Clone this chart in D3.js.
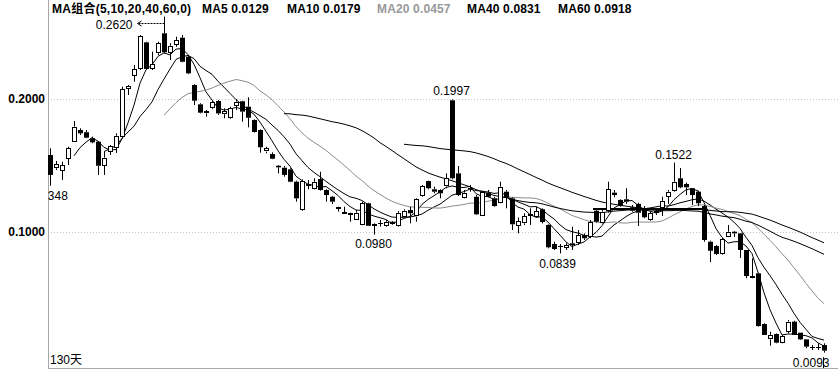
<!DOCTYPE html>
<html><head><meta charset="utf-8">
<script src="https://cdn.jsdelivr.net/npm/d3@7"></script>
<style>body{margin:0;background:#fff}svg{display:block}</style>
</head><body>
<svg id="c" width="838" height="370"></svg>
<script>
const openP=[0.1579,0.1479,0.1459,0.1549,0.1679,0.1767,0.1750,0.1705,0.1679,0.1498,
0.1604,0.1634,0.1717,0.2075,0.2173,0.2226,0.2426,0.2226,0.2344,0.2494,
0.2351,0.2406,0.2461,0.2318,0.2105,0.1960,0.1892,0.1930,0.1985,0.1885,
0.1855,0.1950,0.1983,0.1942,0.1842,0.1767,0.1604,0.1586,0.1498,0.1483,
0.1471,0.1378,0.1165,0.1361,0.1329,0.1398,0.1316,0.1265,0.1186,0.1153,
0.1141,0.1095,0.1047,0.1216,0.1045,0.1062,0.1045,0.1077,0.1045,0.1115,
0.1165,0.1115,0.1271,0.1383,0.1321,0.1316,0.1341,0.1990,0.1441,0.1261,
0.1323,0.1265,0.1123,0.1296,0.1253,0.1220,0.1303,0.1253,0.1047,0.1065,
0.1120,0.1115,0.1171,0.1053,0.0910,0.0889,0.0882,0.0915,0.0915,0.0977,
0.0965,0.1160,0.1073,0.1153,0.1296,0.1241,0.1246,0.1186,0.1211,0.1178,
0.1090,0.1141,0.1186,0.1265,0.1311,0.1404,0.1361,0.1329,0.1303,0.1195,
0.0927,0.0895,0.0832,0.0968,0.1002,0.0990,0.0865,0.0671,0.0689,0.0308,
0.0193,0.0233,0.0168,0.0250,0.0326,0.0243,0.0193,0.0133,0.0136,0.0150];
const highP=[0.1629,0.1534,0.1529,0.1641,0.1835,0.1780,0.1767,0.1717,0.1684,0.1604,
0.1654,0.1742,0.2092,0.2105,0.2256,0.2481,0.2431,0.2356,0.2431,0.2620,
0.2419,0.2468,0.2481,0.2331,0.2111,0.1968,0.1917,0.1985,0.1992,0.1930,
0.1942,0.1998,0.1987,0.2013,0.1847,0.1772,0.1641,0.1599,0.1504,0.1496,
0.1479,0.1386,0.1396,0.1391,0.1404,0.1453,0.1321,0.1271,0.1190,0.1190,
0.1145,0.1165,0.1228,0.1220,0.1065,0.1090,0.1090,0.1083,0.1158,0.1171,
0.1190,0.1253,0.1353,0.1386,0.1341,0.1321,0.1441,0.1997,0.1496,0.1316,
0.1353,0.1278,0.1308,0.1316,0.1265,0.1378,0.1316,0.1261,0.1109,0.1141,
0.1178,0.1190,0.1178,0.1058,0.0927,0.0910,0.0915,0.1040,0.1015,0.0990,
0.1090,0.1171,0.1165,0.1378,0.1316,0.1246,0.1329,0.1203,0.1220,0.1195,
0.1153,0.1178,0.1265,0.1316,0.1522,0.1481,0.1371,0.1329,0.1311,0.1203,
0.0935,0.0902,0.0955,0.1053,0.1008,0.0992,0.0865,0.0802,0.0694,0.0314,
0.0250,0.0238,0.0226,0.0338,0.0333,0.0243,0.0193,0.0150,0.0163,0.0163];
const lowP=[0.1348,0.1466,0.1391,0.1504,0.1679,0.1729,0.1705,0.1667,0.1429,0.1429,
0.1579,0.1594,0.1705,0.2030,0.2130,0.2218,0.2218,0.2218,0.2331,0.2344,
0.2293,0.2393,0.2276,0.2186,0.1955,0.1892,0.1867,0.1923,0.1880,0.1855,
0.1850,0.1917,0.1829,0.1787,0.1747,0.1596,0.1592,0.1547,0.1441,0.1416,
0.1374,0.1228,0.1160,0.1321,0.1321,0.1311,0.1228,0.1211,0.1153,0.1141,
0.1077,0.1090,0.1045,0.1045,0.0980,0.1040,0.1040,0.1055,0.1040,0.1111,
0.1065,0.1077,0.1265,0.1321,0.1291,0.1253,0.1329,0.1396,0.1271,0.1253,
0.1303,0.1128,0.1120,0.1261,0.1190,0.1216,0.1178,0.1015,0.0990,0.1053,
0.1053,0.1109,0.1065,0.0877,0.0865,0.0839,0.0865,0.0865,0.0902,0.0940,
0.0953,0.1070,0.1065,0.1145,0.1261,0.1190,0.1211,0.1153,0.1045,0.1103,
0.1085,0.1128,0.1120,0.1211,0.1303,0.1329,0.1278,0.1203,0.1195,0.0927,
0.0774,0.0827,0.0827,0.0962,0.0962,0.0805,0.0652,0.0652,0.0288,0.0226,
0.0145,0.0163,0.0163,0.0238,0.0226,0.0188,0.0126,0.0113,0.0113,0.0093];
const closeP=[0.1429,0.1509,0.1504,0.1629,0.1792,0.1742,0.1709,0.1674,0.1498,0.1559,
0.1647,0.1724,0.2075,0.2098,0.2226,0.2474,0.2226,0.2261,0.2419,0.2351,
0.2401,0.2444,0.2280,0.2193,0.1987,0.1897,0.1910,0.1975,0.1892,0.1910,
0.1930,0.1980,0.1905,0.1859,0.1752,0.1637,0.1629,0.1551,0.1486,0.1429,
0.1378,0.1253,0.1386,0.1351,0.1378,0.1316,0.1278,0.1228,0.1175,0.1145,
0.1133,0.1145,0.1216,0.1047,0.1058,0.1070,0.1077,0.1060,0.1145,0.1160,
0.1141,0.1246,0.1346,0.1329,0.1303,0.1291,0.1404,0.1404,0.1278,0.1296,
0.1331,0.1133,0.1303,0.1265,0.1195,0.1341,0.1258,0.1058,0.1083,0.1120,
0.1135,0.1158,0.1075,0.0885,0.0872,0.0892,0.0902,0.0902,0.0977,0.0953,
0.1077,0.1077,0.1153,0.1321,0.1278,0.1195,0.1228,0.1160,0.1145,0.1111,
0.1141,0.1158,0.1235,0.1303,0.1378,0.1336,0.1336,0.1278,0.1216,0.0940,
0.0859,0.0835,0.0947,0.1002,0.0990,0.0865,0.0669,0.0664,0.0293,0.0226,
0.0226,0.0168,0.0218,0.0326,0.0226,0.0193,0.0138,0.0135,0.0138,0.0108];
const maPeriods=[5,10,20,40,60];
const legendLabels=["MA组合(5,10,20,40,60,0)","MA5 0.0129","MA10 0.0179","MA20 0.0457","MA40 0.0831","MA60 0.0918"];
const yTicks=[0.1,0.2];
const dayLabel="130天";
const levelIdx=[90.5,109.5];
const levelVal=[0.1173];
const marks=[
 {i:19,field:"high",text:"0.2620"},
 {i:67,field:"high",text:"0.1997"},
 {i:54,field:"low",text:"0.0980"},
 {i:85,field:"low",text:"0.0839"},
 {i:104,field:"high",text:"0.1522"},
 {i:129,field:"low",text:"0.0093"},
 {i:0,field:"low",text:"0.1348"}
];

const W=838,H=370,L=48,B=368;
const svg=d3.select("#c");
const font="'Liberation Sans',Arial,'Noto Sans CJK SC',sans-serif";
const n=closeP.length;
const x=d3.scaleLinear().domain([0,n-1]).range([50,824]);
const y=d3.scaleLinear().domain([0,0.2]).range([365,99]);
const px=i=>Math.round(x(i))+0.5;

svg.append("defs").append("clipPath").attr("id","pc")
 .append("rect").attr("x",L).attr("y",0).attr("width",W-L).attr("height",B);

svg.append("g").selectAll("line").data(yTicks).join("line")
 .attr("x1",L).attr("x2",W).attr("y1",d=>Math.round(y(d))+0.5).attr("y2",d=>Math.round(y(d))+0.5)
 .attr("stroke","#c4c4c4").attr("stroke-dasharray","1,2");

const ax=svg.append("g").attr("transform",`translate(${L},0)`)
 .call(d3.axisLeft(y).tickValues(yTicks).tickFormat(d3.format(".4f")).tickSize(0).tickPadding(3));
ax.select(".domain").remove();
ax.selectAll("text").attr("font-family",font).attr("font-size",12).attr("font-weight","bold").attr("fill","#000");

svg.append("line").attr("x1",L+0.5).attr("x2",L+0.5).attr("y1",0).attr("y2",B).attr("stroke","#a8a8a8");
svg.append("line").attr("x1",L).attr("x2",W).attr("y1",B+0.5).attr("y2",B+0.5).attr("stroke","#a8a8a8");

const plot=svg.append("g").attr("clip-path","url(#pc)");

const maColor=p=>p===20?"#8c8c8c":"#000";
maPeriods.forEach(p=>{
 const pts=[];
 for(let i=p-1;i<n;i++) pts.push([i,d3.mean(closeP.slice(i-p+1,i+1))]);
 plot.append("path").datum(pts)
  .attr("d",d3.line().x(d=>x(d[0])).y(d=>y(d[1])))
  .attr("fill","none").attr("stroke",maColor(p)).attr("stroke-width",1);
});

// flat level segment
plot.append("line").attr("x1",x(levelIdx[0])).attr("x2",x(levelIdx[1]))
 .attr("y1",y(levelVal[0])).attr("y2",y(levelVal[0])).attr("stroke","#000").attr("stroke-width",2);

const cg=plot.append("g");
d3.range(n).forEach(i=>{
 const o=openP[i],c=closeP[i],h=highP[i],l=lowP[i];
 const cx=px(i);
 const yt=y(Math.max(o,c)),yb=y(Math.min(o,c));
 const up=c>=o;
 const g=cg.append("g");
 const bh=yb-yt;
 if(bh<1.5){
  g.append("line").attr("x1",cx).attr("x2",cx).attr("y1",y(h)).attr("y2",y(l)).attr("stroke","#000");
  g.append("line").attr("x1",cx-2.5).attr("x2",cx+2.5).attr("y1",Math.round(yt)+0.5).attr("y2",Math.round(yt)+0.5).attr("stroke","#000");
  if(!up) g.append("rect").attr("x",cx-2.5).attr("width",5).attr("y",Math.round(yt)).attr("height",2).attr("fill","#000");
  return;
 }
 g.append("line").attr("x1",cx).attr("x2",cx).attr("y1",y(h)).attr("y2",yt).attr("stroke","#000");
 g.append("line").attr("x1",cx).attr("x2",cx).attr("y1",yb).attr("y2",y(l)).attr("stroke","#000");
 if(up){
  g.append("rect").attr("x",cx-2).attr("width",4).attr("y",Math.round(yt)+0.5).attr("height",Math.max(1,Math.round(bh)-1))
   .attr("fill","#fff").attr("stroke","#000").attr("stroke-width",1);
 } else {
  g.append("rect").attr("x",cx-2.5).attr("width",5).attr("y",yt).attr("height",bh).attr("fill","#000");
 }
});

const at=plot.append("g").attr("font-family",font).attr("font-size",12).attr("fill","#000");
marks.forEach(m=>{
 const v=m.field==="high"?highP[m.i]:lowP[m.i];
 const cx=px(m.i),cy=y(v);
 if(m.i===19){
  at.append("text").attr("x",cx-32).attr("y",cy+12.5).attr("text-anchor","end").text(m.text);
  at.append("line").attr("x1",cx-26).attr("x2",cx).attr("y1",Math.round(cy)+6.5).attr("y2",Math.round(cy)+6.5)
   .attr("stroke","#000").attr("stroke-dasharray","2,1");
  at.append("path").attr("d",`M${cx-23},${Math.round(cy)+4} L${cx-27},${Math.round(cy)+6.5} L${cx-23},${Math.round(cy)+9}`)
   .attr("fill","none").attr("stroke","#000");
 } else if(m.i===129){
  at.append("text").attr("x",cx+5).attr("y",cy+14.5).attr("text-anchor","end").text(m.text);
  at.append("line").attr("x1",cx-1).attr("x2",cx-1).attr("y1",cy+4.5).attr("y2",B).attr("stroke","#000");
 } else if(m.field==="high"){
  at.append("text").attr("x",cx-1).attr("y",cy-(m.i===104?3.5:4)).attr("text-anchor","middle").text(m.text);
 } else {
  at.append("text").attr("x",m.i===85?cx-3:cx-1).attr("y",cy+(m.i===54?13:14.5)).attr("text-anchor","middle").text(m.text);
 }
});

const lx=[52,202,287,377,467,558];
svg.append("g").selectAll("text").data(legendLabels).join("text")
 .attr("x",(d,i)=>lx[i]).attr("y",13)
 .attr("font-family",font).attr("font-size",12).attr("font-weight","bold")
 .attr("letter-spacing",(d,i)=>i===0?0.25:0.15)
 .attr("fill",(d,i)=>i===3?"#999":"#000").text(d=>d);

svg.append("text").attr("x",50).attr("y",364).attr("font-family",font).attr("font-size",12).attr("fill","#000").text(dayLabel);
</script>
</body></html>
